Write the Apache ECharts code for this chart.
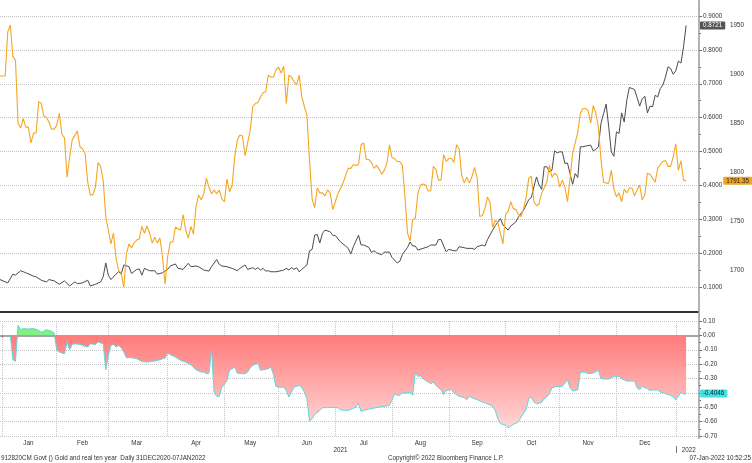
<!DOCTYPE html>
<html lang="en">
<head>
	<meta charset="UTF-8">
	<title>Gold and real ten year</title>
	<style>
		html, body { margin: 0; padding: 0; background: #fff; }
	</style>
</head>
<body>
	<div id="main" style="width: 752px;height: 463px"></div>
	<script src="https://cdn.jsdelivr.net/npm/echarts@6.0.0/dist/echarts.min.js"></script>
	<script>
		// x = weekday index from 31 Dec 2020 (0) to 7 Jan 2022 (266)
		var monthNames = ['Jan','Feb','Mar','Apr','May','Jun','Jul','Aug','Sep','Oct','Nov','Dec'];

		// gold spot, right outer axis
		var goldPts = [[0,1898],[2,1898],[3,1943],[4,1950],[5,1918],[6,1914],[7,1850],[8,1845],[9,1855],[10,1846],[11,1846],[12,1830],[13,1840],[14,1840],[15,1872],[16,1870],[17,1857],[18,1856],[19,1851],[20,1844],[21,1844],[22,1848],[23,1860],[24,1839],[25,1835],[26,1795],[27,1816],[28,1833],[30,1842],[31,1826],[32,1824],[33,1819],[34,1790],[35,1777],[36,1777],[37,1785],[38,1810],[39,1806],[40,1792],[41,1755],[43,1727],[44,1738],[45,1712],[46,1700],[47,1697],[48,1683],[49,1717],[50,1727],[51,1723],[52,1728],[53,1731],[54,1732],[55,1745],[56,1738],[57,1745],[58,1738],[59,1728],[60,1734],[61,1728],[62,1733],[63,1714],[64,1686],[65,1714],[66,1729],[67,1729],[68,1744],[70,1741],[71,1757],[72,1741],[73,1733],[74,1745],[75,1737],[76,1765],[77,1777],[78,1772],[79,1778],[80,1794],[81,1785],[82,1778],[83,1782],[84,1778],[85,1782],[86,1773],[87,1770],[88,1793],[89,1780],[90,1787],[91,1816],[92,1833],[93,1838],[94,1837],[95,1817],[96,1830],[97,1843],[98,1867],[99,1870],[100,1871],[101,1877],[102,1881],[103,1882],[104,1899],[105,1897],[106,1897],[107,1904],[108,1907],[109,1901],[110,1908],[111,1870],[112,1899],[113,1897],[114,1892],[115,1889],[116,1899],[117,1877],[118,1867],[119,1858],[120,1812],[121,1773],[122,1764],[123,1784],[124,1779],[125,1779],[126,1776],[127,1782],[128,1779],[129,1762],[130,1770],[131,1778],[133,1789],[134,1797],[135,1804],[136,1804],[137,1808],[138,1807],[139,1808],[140,1828],[141,1830],[142,1813],[143,1813],[144,1810],[145,1804],[146,1807],[147,1803],[148,1798],[149,1802],[150,1809],[151,1828],[152,1815],[153,1814],[154,1811],[155,1811],[156,1807],[157,1775],[158,1738],[159,1730],[160,1752],[161,1753],[162,1778],[163,1787],[164,1788],[165,1787],[166,1781],[167,1781],[168,1806],[169,1803],[170,1792],[171,1792],[172,1818],[173,1811],[174,1814],[175,1814],[176,1810],[177,1828],[178,1824],[179,1797],[180,1789],[181,1795],[182,1789],[183,1796],[184,1805],[185,1794],[186,1755],[187,1756],[188,1763],[189,1775],[190,1769],[191,1744],[192,1751],[193,1749],[194,1738],[195,1727],[196,1757],[197,1760],[198,1770],[199,1763],[200,1762],[201,1757],[202,1755],[203,1763],[204,1775],[205,1794],[206,1796],[207,1770],[208,1766],[209,1768],[210,1779],[211,1784],[212,1790],[213,1807],[214,1795],[215,1799],[216,1797],[217,1785],[218,1792],[219,1785],[220,1770],[221,1794],[222,1819],[223,1830],[224,1841],[225,1860],[226,1865],[227,1865],[228,1863],[229,1850],[230,1868],[231,1860],[232,1846],[233,1813],[234,1790],[235,1789],[236,1789],[237,1802],[238,1783],[239,1775],[240,1779],[241,1770],[242,1783],[243,1779],[244,1784],[245,1784],[246,1776],[247,1782],[248,1787],[249,1772],[250,1777],[251,1799],[252,1798],[254,1790],[255,1804],[256,1808],[257,1811],[258,1812],[259,1806],[260,1806],[261,1816],[262,1829],[263,1802],[264,1812],[265,1792],[266,1791.35]];

		// 912820CM Govt, right inner axis
		var realPts = [[0,0.122],[3,0.112],[5,0.138],[6,0.135],[8,0.148],[10,0.142],[13,0.132],[14,0.130],[16,0.120],[18,0.115],[19,0.122],[21,0.118],[23,0.108],[25,0.118],[27,0.103],[29,0.115],[30,0.110],[32,0.112],[34,0.120],[35,0.103],[37,0.108],[39,0.115],[40,0.130],[41,0.171],[42,0.135],[43,0.122],[45,0.138],[46,0.145],[47,0.138],[48,0.165],[50,0.160],[51,0.140],[53,0.152],[54,0.153],[55,0.135],[56,0.155],[58,0.148],[60,0.148],[61,0.138],[63,0.142],[65,0.152],[66,0.162],[68,0.168],[69,0.155],[71,0.152],[73,0.170],[74,0.160],[76,0.162],[77,0.160],[79,0.150],[81,0.147],[82,0.160],[84,0.181],[85,0.167],[86,0.162],[88,0.160],[90,0.155],[92,0.148],[93,0.155],[95,0.165],[96,0.152],[98,0.157],[99,0.152],[100,0.157],[101,0.150],[102,0.155],[103,0.147],[104,0.148],[105,0.145],[107,0.145],[109,0.148],[110,0.150],[111,0.155],[112,0.150],[113,0.157],[114,0.152],[115,0.157],[116,0.145],[117,0.152],[119,0.165],[120,0.207],[121,0.211],[122,0.253],[123,0.255],[124,0.230],[125,0.258],[126,0.268],[128,0.263],[129,0.253],[130,0.252],[132,0.233],[134,0.221],[135,0.214],[136,0.197],[137,0.219],[138,0.236],[139,0.253],[140,0.224],[141,0.224],[143,0.217],[144,0.202],[145,0.207],[146,0.201],[148,0.195],[149,0.203],[151,0.203],[152,0.187],[154,0.171],[155,0.176],[156,0.196],[158,0.217],[159,0.233],[160,0.221],[161,0.221],[162,0.209],[164,0.214],[166,0.219],[167,0.224],[169,0.224],[170,0.240],[171,0.240],[172,0.221],[173,0.204],[174,0.211],[176,0.207],[177,0.207],[178,0.219],[180,0.216],[181,0.214],[183,0.214],[184,0.211],[185,0.219],[187,0.224],[188,0.221],[189,0.240],[191,0.268],[192,0.281],[194,0.302],[195,0.283],[197,0.268],[198,0.280],[200,0.292],[201,0.307],[203,0.327],[205,0.358],[206,0.364],[207,0.396],[208,0.425],[209,0.401],[210,0.388],[211,0.455],[212,0.455],[213,0.440],[214,0.445],[215,0.502],[216,0.496],[217,0.499],[218,0.499],[219,0.465],[220,0.466],[221,0.435],[222,0.403],[223,0.435],[224,0.423],[225,0.514],[226,0.514],[227,0.516],[229,0.519],[230,0.502],[231,0.506],[232,0.514],[233,0.583],[234,0.612],[235,0.640],[236,0.573],[237,0.499],[238,0.486],[239,0.558],[240,0.553],[241,0.614],[242,0.587],[243,0.651],[244,0.689],[245,0.686],[246,0.683],[247,0.659],[248,0.634],[249,0.656],[250,0.663],[251,0.614],[252,0.634],[253,0.632],[254,0.666],[255,0.661],[256,0.686],[257,0.696],[258,0.720],[259,0.750],[260,0.745],[261,0.728],[262,0.738],[263,0.767],[264,0.761],[265,0.809],[266,0.8721]];

		// rolling correlation, lower panel
		var corrPts = [[4,0],[5,-0.17],[6,-0.18],[7,0.07],[8,0.04],[9,0.047],[11,0.044],[13,0.047],[15,0.035],[16,0.021],[17,0.03],[18,0.04],[20,0.028],[21,0.016],[22,-0.10],[23,-0.116],[24,-0.123],[25,-0.128],[26,-0.046],[27,-0.10],[28,-0.063],[29,-0.058],[31,-0.063],[32,-0.070],[34,-0.081],[35,-0.058],[37,-0.063],[38,-0.046],[40,-0.058],[41,-0.239],[42,-0.139],[43,-0.07],[44,-0.063],[45,-0.081],[46,-0.07],[47,-0.086],[48,-0.116],[49,-0.155],[51,-0.155],[53,-0.162],[55,-0.181],[57,-0.186],[59,-0.181],[61,-0.174],[62,-0.169],[64,-0.158],[65,-0.123],[66,-0.134],[68,-0.151],[70,-0.174],[72,-0.186],[74,-0.204],[76,-0.239],[78,-0.255],[79,-0.255],[80,-0.267],[81,-0.263],[82,-0.10],[83,-0.394],[84,-0.424],[85,-0.424],[86,-0.36],[87,-0.341],[88,-0.313],[89,-0.243],[90,-0.232],[91,-0.22],[92,-0.262],[94,-0.267],[95,-0.267],[96,-0.255],[97,-0.225],[98,-0.209],[100,-0.193],[101,-0.243],[102,-0.239],[104,-0.232],[105,-0.22],[106,-0.271],[107,-0.355],[108,-0.36],[110,-0.36],[111,-0.383],[112,-0.429],[113,-0.394],[114,-0.36],[116,-0.348],[117,-0.364],[118,-0.394],[119,-0.44],[120,-0.596],[121,-0.58],[122,-0.55],[124,-0.522],[125,-0.503],[127,-0.503],[128,-0.499],[130,-0.503],[131,-0.503],[132,-0.517],[134,-0.522],[135,-0.522],[138,-0.499],[139,-0.471],[140,-0.529],[141,-0.522],[143,-0.513],[145,-0.506],[147,-0.499],[149,-0.494],[151,-0.487],[152,-0.447],[153,-0.406],[154,-0.417],[155,-0.417],[156,-0.401],[158,-0.401],[159,-0.394],[160,-0.417],[161,-0.262],[162,-0.285],[163,-0.281],[164,-0.301],[166,-0.325],[167,-0.336],[168,-0.325],[169,-0.348],[171,-0.378],[172,-0.413],[173,-0.383],[175,-0.376],[176,-0.401],[178,-0.424],[180,-0.434],[181,-0.447],[182,-0.424],[183,-0.434],[185,-0.447],[187,-0.464],[189,-0.476],[191,-0.494],[192,-0.522],[193,-0.58],[194,-0.614],[196,-0.626],[197,-0.642],[198,-0.633],[199,-0.619],[201,-0.603],[202,-0.568],[204,-0.517],[205,-0.44],[206,-0.429],[207,-0.464],[208,-0.476],[210,-0.466],[211,-0.44],[212,-0.429],[213,-0.406],[214,-0.364],[216,-0.355],[218,-0.355],[219,-0.332],[220,-0.308],[221,-0.364],[222,-0.387],[224,-0.378],[225,-0.255],[227,-0.257],[228,-0.267],[230,-0.262],[231,-0.253],[232,-0.243],[233,-0.301],[235,-0.304],[236,-0.304],[238,-0.285],[240,-0.285],[241,-0.301],[243,-0.318],[244,-0.318],[246,-0.318],[247,-0.364],[248,-0.378],[249,-0.355],[251,-0.371],[252,-0.383],[253,-0.38],[255,-0.38],[256,-0.394],[258,-0.406],[260,-0.417],[261,-0.429],[262,-0.447],[263,-0.424],[264,-0.394],[265,-0.41],[266,-0.4046]];

		// weekday categories, a few spare days past the last print
		var categories = [];
		for (var d = new Date(Date.UTC(2020, 11, 31)); categories.length < 272; d.setUTCDate(d.getUTCDate() + 1)) {
			var wd = d.getUTCDay();
			if (wd !== 0 && wd !== 6) categories.push(d.toISOString().slice(0, 10));
		}

		// month boundaries / label spots
		var monthStart = {}, monthLabelAt = {}, yearStart = {}, yearLabelAt = {};
		var segStart = 1, yStart = 1;
		for (var i = 1; i <= categories.length; i++) {
			var c = categories[i], p = categories[i - 1];
			if (i === categories.length || c.slice(5, 7) !== p.slice(5, 7)) {
				if (i < categories.length) monthStart[i] = true;
				if (p.slice(0, 4) === '2021' && i > 1) monthLabelAt[Math.floor((segStart + i) / 2)] = monthNames[+p.slice(5, 7) - 1];
				segStart = i;
			}
			if (i === categories.length || c.slice(0, 4) !== p.slice(0, 4)) {
				if (i > 1 && i < categories.length) yearStart[i] = true;
				if (i > 1) yearLabelAt[Math.round((yStart + i) / 2)] = p.slice(0, 4);
				yStart = i;
			}
		}

		var FONT = 'Liberation Sans';
		var FS = 6.3;
		var gridLine = { lineStyle: { color: '#c4c4c4', type: 'dotted', width: 1 } };

		function last(arr) { return arr[arr.length - 1][1]; }
		function endLabel(bg, fg, digits, margin) {
			return {
				show: true, type: 'none', status: 'show', triggerTooltip: false,
				label: {
					show: true, margin: margin, padding: [1, 3, 1, 3], borderRadius: 1,
					backgroundColor: bg, color: fg, fontFamily: FONT, fontSize: FS,
					formatter: function (p) { return (+p.value).toFixed(digits); }
				}
			};
		}

		var cVals = corrPts.map(function (q) { return q[1]; });
		var cMax = Math.max.apply(null, cVals.concat([0]));
		var cMin = Math.min.apply(null, cVals.concat([0]));
		var zeroAt = cMax / (cMax - cMin);

		var myChart = echarts.init(document.getElementById('main'));

		var realPointer = endLabel('#555555', '#ffffff', 4, 1);
		realPointer.value = last(realPts);
		var goldPointer = endLabel('#f2a41f', '#222222', 2, 0);
		goldPointer.value = last(goldPts);
		var corrPointer = endLabel('#3fe3e3', '#1a1a1a', 4, 1);
		corrPointer.value = last(corrPts);

		myChart.setOption({
			animation: false,
			backgroundColor: '#ffffff',
			grid: [
				{ left: -2, right: 53, top: 16, height: 271 },
				{ left: -2, right: 53, top: 321, height: 115 },
				{ left: -2, right: 53, top: 25, height: 245.5 }
			],
			xAxis: [
				{ gridIndex: 0, type: 'category', data: categories, boundaryGap: false, show: false },
				{
					gridIndex: 1, type: 'category', data: categories, boundaryGap: false, offset: 2,
					axisLine: { lineStyle: { color: '#a6a6a6', width: 2 } },
					axisTick: { interval: function (i) { return !!monthStart[i]; }, length: 2, lineStyle: { color: '#777' } },
					axisLabel: {
						interval: function (i) { return i in monthLabelAt; },
						formatter: function (v, i) { return monthLabelAt[i]; },
						margin: 2, fontFamily: FONT, fontSize: FS, color: '#333'
					},
					splitLine: { show: true, interval: function (i) { return !!monthStart[i]; }, lineStyle: gridLine.lineStyle }
				},
				{
					gridIndex: 1, type: 'category', data: categories, boundaryGap: false, position: 'bottom', offset: 10,
					axisLine: { show: false },
					axisTick: { show: true, interval: function (i) { return !!yearStart[i]; }, length: 7, lineStyle: { color: '#777' } },
					axisLabel: {
						interval: function (i) { return i in yearLabelAt; },
						formatter: function (v, i) { return yearLabelAt[i]; },
						margin: 1, fontFamily: FONT, fontSize: FS, color: '#333'
					},
					splitLine: { show: false }
				},
				{ gridIndex: 2, type: 'category', data: categories, boundaryGap: false, show: false }
			],
			yAxis: [
				{
					gridIndex: 0, type: 'value', position: 'right', min: 0.1, max: 0.9, interval: 0.1,
					axisLine: { show: false },
					axisTick: { show: true, length: 3, lineStyle: { color: '#666' } },
					minorTick: { show: true, splitNumber: 2, length: 2, lineStyle: { color: '#666' } },
					axisLabel: { margin: 4, fontFamily: FONT, fontSize: FS, color: '#333', formatter: function (v) { return v.toFixed(4); } },
					splitLine: gridLine,
					axisPointer: realPointer
				},
				{
					gridIndex: 1, type: 'value', position: 'right', min: -0.7, max: 0.1, interval: 0.1,
					axisLine: { show: false },
					axisTick: { show: true, length: 3, lineStyle: { color: '#666' } },
					minorTick: { show: true, splitNumber: 2, length: 2, lineStyle: { color: '#666' } },
					axisLabel: { margin: 4, fontFamily: FONT, fontSize: FS, color: '#333', formatter: function (v) { return v.toFixed(2); } },
					splitLine: gridLine,
					axisPointer: corrPointer
				},
				{
					gridIndex: 2, type: 'value', position: 'right', offset: 28, min: 1700, max: 1950, interval: 50,
					axisLine: { show: false }, axisTick: { show: false }, splitLine: { show: false },
					axisLabel: { margin: 3, fontFamily: FONT, fontSize: FS, color: '#333', formatter: function (v) { return String(v); } },
					axisPointer: goldPointer
				}
			],
			series: [
				{
					name: 'Real ten year', type: 'line', xAxisIndex: 0, yAxisIndex: 0, data: realPts,
					showSymbol: false, clip: false, lineStyle: { color: '#4b4b4b', width: 1 }, z: 3
				},
				{
					name: 'Gold', type: 'line', xAxisIndex: 3, yAxisIndex: 2, data: goldPts,
					showSymbol: false, clip: false, lineStyle: { color: '#f5a623', width: 1.1 }, z: 4
				},
				{
					name: 'Correlation', type: 'line', xAxisIndex: 1, yAxisIndex: 1, data: corrPts,
					showSymbol: false, lineStyle: { color: '#5cd8d8', width: 1 },
					areaStyle: {
						opacity: 1,
						color: new echarts.graphic.LinearGradient(0, 0, 0, 1, [
							{ offset: 0, color: '#82f082' },
							{ offset: zeroAt, color: '#82f082' },
							{ offset: zeroAt, color: '#ff7b7b' },
							{ offset: 1, color: '#ffd6d6' }
						])
					}
				}
			],
			graphic: [
				{ type: 'line', z: 10, shape: { x1: 0, y1: 312, x2: 699, y2: 312 }, style: { stroke: '#333', lineWidth: 2 } },
				{ type: 'line', z: 10, shape: { x1: 699, y1: 0, x2: 699, y2: 439 }, style: { stroke: '#9a9a9a', lineWidth: 1.5 } },
				{ type: 'text', left: 1, top: 455, style: { text: '912820CM Govt () Gold and real ten year  Daily 31DEC2020-07JAN2022', font: FS + 'px "' + FONT + '"', fill: '#333' } },
				{ type: 'text', left: 388, top: 455, style: { text: 'Copyright\u00A9 2022 Bloomberg Finance L.P.', font: FS + 'px "' + FONT + '"', fill: '#333' } },
				{ type: 'text', right: 1, top: 455, style: { text: '07-Jan-2022 10:52:25', font: FS + 'px "' + FONT + '"', fill: '#333' } }
			]
		});
	</script>
</body>
</html>
